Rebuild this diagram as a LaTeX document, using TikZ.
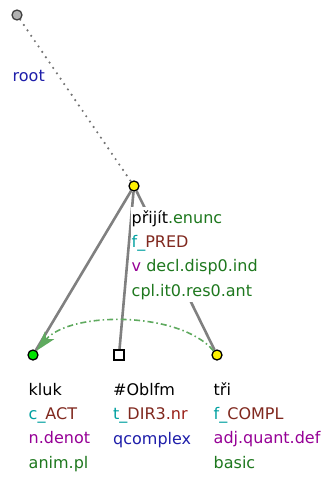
\documentclass[tikz,border=0pt]{standalone}
\usepackage{fontspec}
\setmainfont{DejaVu Sans}
\usepackage{tikz}
\usetikzlibrary{arrows.meta, backgrounds}
\definecolor{functor}{RGB}{0,160,160}
\definecolor{fname}{RGB}{128,40,30}
\definecolor{sempos}{RGB}{150,0,150}
\definecolor{gram}{RGB}{30,120,30}
\definecolor{cplx}{RGB}{30,30,170}
\definecolor{edgegray}{RGB}{128,128,128}
\definecolor{corefgreen}{RGB}{95,170,95}

\begin{document}
\begin{tikzpicture}[
    x=1pt, y=-1pt,
    font=\fontsize{16}{24.3}\selectfont,
    tnode/.style={circle, draw=black, line width=1.3pt, minimum size=10pt, inner sep=0pt},
    rootnode/.style={tnode, draw=black!75, fill=black!30},
    qnode/.style={draw=black, line width=1.2pt, fill=white, minimum size=10pt, inner sep=0pt},
    edge/.style={draw=edgegray, line width=2.6pt},
    rootedge/.style={draw=black!55, line width=2.4pt, line cap=round, dash pattern=on 0pt off 6.5pt},
    lbl/.style={anchor=base west, align=left, fill=white, inner xsep=0.5pt, inner ysep=3pt},
    coref/.style={draw=corefgreen, line width=1.6pt,
        dash pattern=on 6pt off 3pt on 1.5pt off 3pt,
        -{Stealth[length=20pt, width=12pt, inset=5pt]}}
  ]
  \useasboundingbox (0,0) rectangle (326,477);

  % nodes
  \node[rootnode] (root) at (17,15) {};
  \node[tnode, fill=yellow] (pred) at (134,186) {};
  \node[tnode, fill=green!90!black] (kluk) at (33,355) {};
  \node[qnode] (oblfm) at (119,355) {};
  \node[tnode, fill=yellow] (tri) at (217,355) {};

  % labels (anchored at the baseline of the last line)
  \node[lbl] (rootlbl) at (12,81) {\textcolor{cplx}{root}};
  \node[lbl] (predlbl) at (131,296) {přijít\textcolor{gram}{.enunc}\\
    \textcolor{functor}{f\_}\textcolor{fname}{PRED}\\
    \textcolor{sempos}{v} \textcolor{gram}{decl.disp0.ind}\\
    \textcolor{gram}{cpl.it0.res0.ant}};
  \node[lbl] (kluklbl) at (28,468) {kluk\\
    \textcolor{functor}{c\_}\textcolor{fname}{ACT}\\
    \textcolor{sempos}{n.denot}\\
    \textcolor{gram}{anim.pl}};
  \node[lbl] (obllbl) at (112.5,444) {\#Oblfm\\
    \textcolor{functor}{t\_}\textcolor{fname}{DIR3}\textcolor{fname!80!red}{.nr}\\
    \textcolor{cplx}{qcomplex}};
  \node[lbl] (trilbl) at (213,468) {tři\\
    \textcolor{functor}{f\_}\textcolor{fname}{COMPL}\\
    \textcolor{sempos}{adj.quant.def}\\
    \textcolor{gram}{basic}};

  \begin{scope}[on background layer]
    \draw[rootedge] (root) -- (pred);
    \draw[edge] (pred) -- (kluk);
    \draw[edge] (pred) -- (oblfm);
    \draw[edge] (pred) -- (tri);
  \end{scope}

  \draw[coref] (tri) .. controls (180,311) and (70,311) .. (kluk);
\end{tikzpicture}
\end{document}
